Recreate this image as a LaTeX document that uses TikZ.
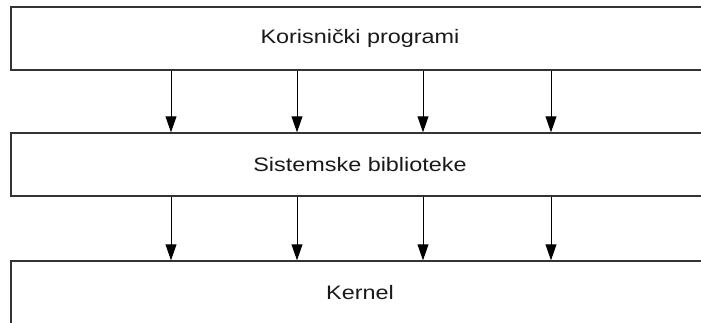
\documentclass[tikz,border=0pt]{standalone}
\usepackage{fontspec}
\setmainfont{Liberation Sans}[FakeStretch=1.2]
\usetikzlibrary{arrows.meta}

\begin{document}
\begin{tikzpicture}[x=1pt, y=-1pt,
	sloj/.style={draw=black!80, line width=1.5pt, minimum width=698pt, minimum height=63pt, inner sep=0pt, font=\fontsize{19.5}{23}\selectfont, text=black!90},
	veza/.style={-{Triangle[length=16pt, width=11pt]}, line width=1pt}]
	\useasboundingbox (0,0) rectangle (701,322);
	\clip (0,0) rectangle (701,322);
	\node[sloj] (programi) at (360,38.5) {Korisnički programi};
	\node[sloj] (biblioteke) at (360,164.5) {Sistemske biblioteke};
	\node[sloj] (kernel) at (360,292.5) {Kernel};
	\foreach \x in {171,297,423,551} {
		\draw[veza] (programi.south -| \x,0) -- (biblioteke.north -| \x,0);
		\draw[veza] (biblioteke.south -| \x,0) -- (kernel.north -| \x,0);
	}
\end{tikzpicture}
\end{document}
